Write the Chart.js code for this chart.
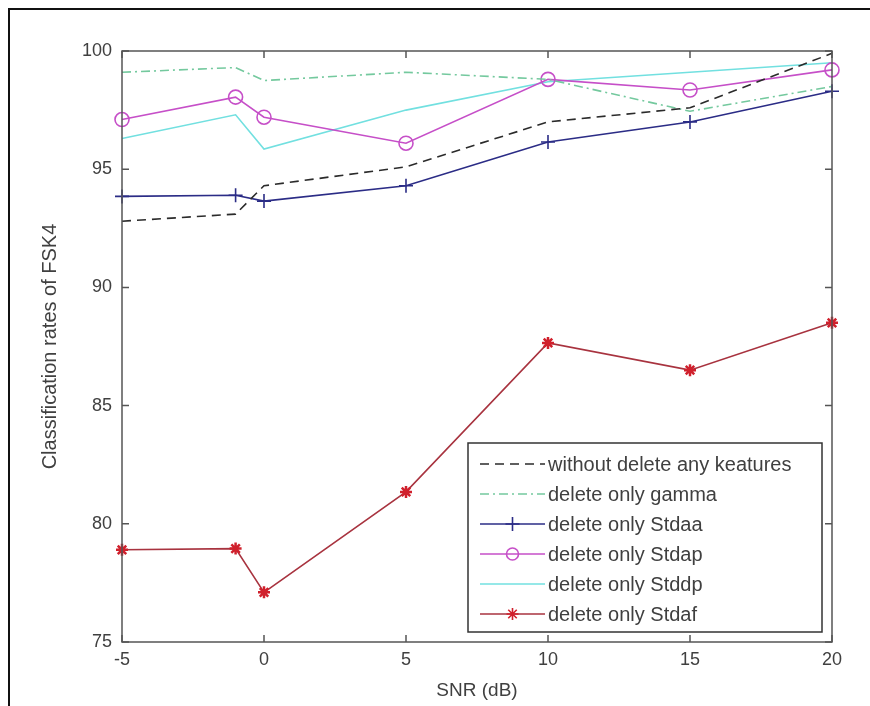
<!DOCTYPE html>
<html>
<head>
<meta charset="utf-8">
<script src="https://cdn.jsdelivr.net/npm/chart.js@4/dist/chart.umd.min.js"></script>
<style>
  html, body { margin: 0; padding: 0; background: #fff; }
  #wrap { width: 870px; height: 706px; position: relative; }
</style>
</head>
<body>
<div id="wrap"><canvas id="fskChart" width="870" height="706"></canvas></div>
<script>
// --- data ---
const snr = [-5, -1, 0, 5, 10, 15, 20];
const xTicks = [-5, 0, 5, 10, 15, 20];
const yTicks = [75, 80, 85, 90, 95, 100];

const withoutDelete = [92.8, 93.1, 94.3, 95.1, 97.0, 97.6, 99.9];
const onlyGamma     = [99.1, 99.3, 98.75, 99.1, 98.8, 97.45, 98.5];
const onlyStdaa     = [93.85, 93.9, 93.65, 94.3, 96.15, 97.0, 98.3];
const onlyStdap     = [97.1, 98.05, 97.2, 96.1, 98.8, 98.35, 99.2];
const onlyStddp     = [96.3, 97.3, 95.85, 97.5, 98.7, 99.1, 99.5];
const onlyStdaf     = [78.9, 78.95, 77.1, 81.35, 87.65, 86.5, 88.5];

const FONT = 'Liberation Sans, Arial, sans-serif';
const TXT = '#404040';

function pts(values) {
    return snr.map((x, i) => ({ x: x, y: values[i] }));
}

const seriesDefs = [
    { label: 'without delete any keatures', data: withoutDelete, color: '#2b2b2b', dash: [9, 6], marker: false },
    { label: 'delete only gamma', data: onlyGamma, color: '#74c99e', dash: [9, 4, 2, 4], marker: false },
    { label: 'delete only Stdaa', data: onlyStdaa, color: '#2b2c86', dash: [], marker: 'cross', radius: 7 },
    { label: 'delete only Stdap', data: onlyStdap, color: '#c64fc8', dash: [], marker: 'circle', radius: 7 },
    { label: 'delete only Stddp', data: onlyStddp, color: '#72e0e0', dash: [], marker: false },
    { label: 'delete only Stdaf', data: onlyStdaf, color: '#a8333f', dash: [], marker: 'star', radius: 6, markerColor: '#d0202c' }
];

const datasets = seriesDefs.map(s => ({
    label: s.label,
    data: pts(s.data),
    borderColor: s.color,
    borderWidth: 1.6,
    borderDash: s.dash,
    backgroundColor: 'rgba(0,0,0,0)',
    pointStyle: s.marker || 'circle',
    pointRadius: s.marker ? s.radius : 0,
    pointBorderColor: s.markerColor || s.color,
    pointBorderWidth: s.marker === 'star' ? 2.5 : 1.6,
    pointBackgroundColor: 'rgba(0,0,0,0)',
    clip: false,
    tension: 0,
    fill: false
}));

// outer frame, axes box with inward ticks (matlab look) and the legend box
const matlabFrame = {
    id: 'matlabFrame',
    beforeDraw(chart) {
        const c = chart.ctx;
        c.save();
        c.strokeStyle = '#111';
        c.lineWidth = 2;
        c.beginPath();
        c.moveTo(9, 706);
        c.lineTo(9, 9);
        c.lineTo(870, 9);
        c.stroke();
        c.restore();
    },
    afterDatasetsDraw(chart) {
        const c = chart.ctx;
        const a = chart.chartArea;
        const xs = chart.scales.x, ys = chart.scales.y;
        c.save();
        c.strokeStyle = '#555';
        c.lineWidth = 1.5;
        c.setLineDash([]);
        c.strokeRect(a.left, a.top, a.right - a.left, a.bottom - a.top);
        const tl = 7;
        c.beginPath();
        xTicks.forEach(v => {
            const px = xs.getPixelForValue(v);
            c.moveTo(px, a.bottom); c.lineTo(px, a.bottom - tl);
            c.moveTo(px, a.top); c.lineTo(px, a.top + tl);
        });
        yTicks.forEach(v => {
            const py = ys.getPixelForValue(v);
            c.moveTo(a.left, py); c.lineTo(a.left + tl, py);
            c.moveTo(a.right, py); c.lineTo(a.right - tl, py);
        });
        c.stroke();

        // legend
        const lx = 468, ly = 443, lw = 354, lh = 189;
        c.fillStyle = '#fff';
        c.fillRect(lx, ly, lw, lh);
        c.strokeStyle = '#333';
        c.lineWidth = 1.5;
        c.strokeRect(lx, ly, lw, lh);
        const rowH = 30;
        c.font = '20px ' + FONT;
        c.textBaseline = 'middle';
        seriesDefs.forEach((s, i) => {
            const y = ly + 21 + i * rowH;
            const x0 = lx + 12, x1 = lx + 77;
            c.strokeStyle = s.color;
            c.lineWidth = 1.6;
            c.setLineDash(s.dash);
            c.beginPath();
            c.moveTo(x0, y); c.lineTo(x1, y);
            c.stroke();
            c.setLineDash([]);
            if (s.marker) {
                c.strokeStyle = s.markerColor || s.color;
                c.fillStyle = 'rgba(0,0,0,0)';
                Chart.helpers.drawPoint(c, {
                    pointStyle: s.marker,
                    radius: s.marker === 'circle' ? 6 : s.radius,
                    borderWidth: s.marker === 'star' ? 2.5 : 1.6
                }, (x0 + x1) / 2, y);
            }
            c.fillStyle = TXT;
            c.textAlign = 'left';
            c.fillText(s.label, x1 + 3, y + 1);
        });
        c.restore();
    }
};

new Chart(document.getElementById('fskChart'), {
    type: 'line',
    data: { datasets: datasets },
    plugins: [matlabFrame],
    options: {
        responsive: false,
        animation: false,
        layout: { padding: { left: 22, right: 38, top: 51, bottom: 4 } },
        plugins: {
            legend: { display: false },
            tooltip: { enabled: false }
        },
        scales: {
            x: {
                type: 'linear',
                min: -5,
                max: 20,
                afterBuildTicks: scale => { scale.ticks = xTicks.map(v => ({ value: v })); },
                afterFit: scale => { scale.height = 60; },
                grid: { display: false, drawTicks: false },
                border: { display: false },
                ticks: { color: TXT, font: { family: FONT, size: 18 }, padding: 7 },
                title: { display: true, text: 'SNR (dB)', color: TXT, font: { family: FONT, size: 19 }, padding: { top: 0, bottom: 0 } }
            },
            y: {
                min: 75,
                max: 100,
                afterBuildTicks: scale => { scale.ticks = yTicks.map(v => ({ value: v })); },
                afterFit: scale => { scale.width = 100; },
                grid: { display: false, drawTicks: false },
                border: { display: false },
                ticks: { color: TXT, font: { family: FONT, size: 18 }, padding: 10 },
                title: { display: true, text: 'Classification rates of FSK4', color: TXT, font: { family: FONT, size: 20 }, padding: { top: 16, bottom: 0 } }
            }
        }
    }
});
</script>
</body>
</html>
